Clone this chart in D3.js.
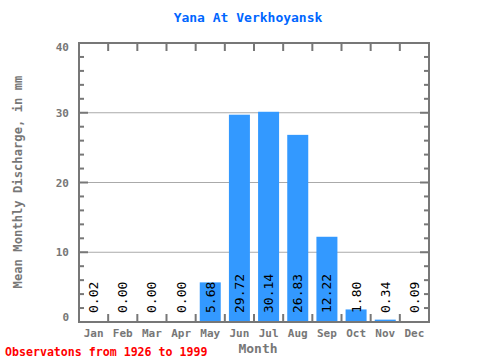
<!DOCTYPE html>
<html><head><meta charset="utf-8">
<script src="https://cdn.jsdelivr.net/npm/d3@7"></script>
<style>body{margin:0;background:#fff}svg{display:block}</style>
</head><body>
<svg id="c" width="480" height="360"></svg>
<script>
const months = ["Jan","Feb","Mar","Apr","May","Jun","Jul","Aug","Sep","Oct","Nov","Dec"];
const values = [0.02,0.00,0.00,0.00,5.68,29.72,30.14,26.83,12.22,1.80,0.34,0.09];
const valueLabels = ["0.02","0.00","0.00","0.00","5.68","29.72","30.14","26.83","12.22","1.80","0.34","0.09"];
const yTicks = [0,10,20,30,40];
const title = "Yana At Verkhoyansk";
const yTitle = "Mean Monthly Discharge, in mm";
const xTitle = "Month";
const footer = "Observatons from 1926 to 1999";

const L=79,R=429,T=43,B=322;
const mono = "'DejaVu Sans Mono', monospace";
const axisCol = "#777";
const svg = d3.select("#c");
const x = d3.scaleBand().domain(months).range([L,R]).paddingInner(0.28).paddingOuter(0.14);
const xb = d3.scaleLinear().domain([0,12]).range([L,R]);
const y = d3.scaleLinear().domain([0,40]).range([B,T]);

// grid
svg.append("g").selectAll("line").data([10,20,30]).join("line")
  .attr("x1",L).attr("x2",R).attr("y1",d=>y(d)).attr("y2",d=>y(d))
  .attr("stroke","#aaa").attr("stroke-width",1);

// bars
svg.append("g").selectAll("rect").data(values).join("rect")
  .attr("x",(d,i)=>x(months[i])).attr("width",x.bandwidth())
  .attr("y",d=>y(d)).attr("height",d=>B-y(d)).attr("fill","#3399ff");

// frame
svg.append("rect").attr("x",L).attr("y",T).attr("width",R-L).attr("height",B-T)
  .attr("fill","none").attr("stroke",axisCol).attr("stroke-width",2);

// month boundary ticks
const bt = d3.range(1,12);
svg.append("g").selectAll("line").data(bt).join("line")
  .attr("x1",d=>xb(d)).attr("x2",d=>xb(d)).attr("y1",B).attr("y2",B-8)
  .attr("stroke",axisCol).attr("stroke-width",2);
svg.append("g").selectAll("line").data(bt).join("line")
  .attr("x1",d=>xb(d)).attr("x2",d=>xb(d)).attr("y1",T).attr("y2",T+8)
  .attr("stroke",axisCol).attr("stroke-width",2);

// y minor/major ticks
const yt = d3.range(2,40,2);
[[L,1],[R,-1]].forEach(([x0,dir])=>{
  svg.append("g").selectAll("line").data(yt).join("line")
    .attr("x1",x0).attr("x2",d=>x0+dir*(d%10===0?9:5))
    .attr("y1",d=>y(d)).attr("y2",d=>y(d))
    .attr("stroke",axisCol).attr("stroke-width",2);
});

// y tick labels
svg.append("g").selectAll("text").data(yTicks).join("text")
  .attr("x",L-10).attr("y",d=>y(d)+ (d===0?-1:(d===40?8:4)))
  .attr("text-anchor","end").attr("font-family",mono).attr("font-weight","bold")
  .attr("font-size",11).attr("fill",axisCol).text(d=>d);

// x tick labels
svg.append("g").selectAll("text").data(months).join("text")
  .attr("x",d=>x(d)+x.bandwidth()/2).attr("y",337)
  .attr("text-anchor","middle").attr("font-family",mono).attr("font-weight","bold")
  .attr("font-size",11).attr("fill",axisCol).text(d=>d);

// value labels
svg.append("g").selectAll("text").data(values).join("text")
  .attr("transform",(d,i)=>`translate(${x(months[i])+x.bandwidth()/2+4.5},313) rotate(-90)`)
  .attr("font-family",mono).attr("font-size",13).attr("fill","#000")
  .text((d,i)=>valueLabels[i]);

// titles
svg.append("text").attr("x",248).attr("y",22).attr("text-anchor","middle")
  .attr("font-family",mono).attr("font-weight","bold").attr("font-size",13)
  .attr("fill","#0066ff").text(title);
svg.append("text").attr("transform","translate(22,182) rotate(-90)").attr("text-anchor","middle")
  .attr("font-family",mono).attr("font-weight","bold").attr("font-size",12.2)
  .attr("fill",axisCol).text(yTitle);
svg.append("text").attr("x",258).attr("y",353).attr("text-anchor","middle")
  .attr("font-family",mono).attr("font-weight","bold").attr("font-size",13)
  .attr("fill",axisCol).text(xTitle);
svg.append("text").attr("x",5).attr("y",356)
  .attr("font-family",mono).attr("font-weight","bold").attr("font-size",11.6)
  .attr("fill","#ff0000").text(footer);
</script>
</body></html>
